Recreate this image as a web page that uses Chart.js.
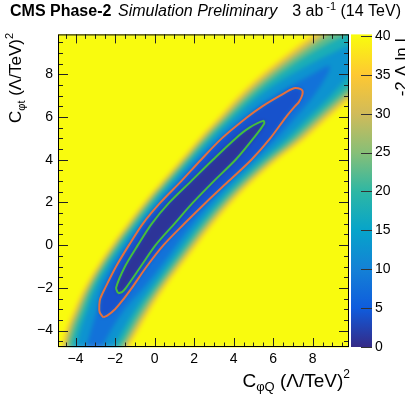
<!DOCTYPE html>
<html>
<head>
<meta charset="utf-8">
<script src="https://cdn.jsdelivr.net/npm/chart.js@4.4.1/dist/chart.umd.min.js"></script>
<style>html,body{margin:0;padding:0;background:#fff}canvas{display:block}</style>
</head>
<body>
<canvas id="c" width="405" height="395"></canvas>
<script>
// -2 delta lnL scan in the (C_phiQ, C_phit) plane
// rows of C_phit where the left / right edge of each level was read
const rowsY = [-6, -5, -4, -3, -2, -1, 0, 1, 2, 3, 4, 5, 6, 7, 8, 9, 10, 11];

// edges of the region below each level (C_phiQ values)
const band40L = [-4.96, -4.79, -4.54, -4.10, -3.59, -2.95, -2.22, -1.42, -0.59, 0.33, 1.27, 2.19, 3.20, 4.18, 5.34, 6.69, 8.11, 9.61];
const band40R = [-1.86, -1.39, -0.79, -0.15, 0.56, 1.35, 2.18, 3.03, 3.96, 5.03, 6.27, 7.69, 8.90, 10.18, 11.64, 13.19, 14.81, 16.51];
const band35L = [-4.86, -4.69, -4.43, -3.99, -3.49, -2.86, -2.13, -1.33, -0.49, 0.43, 1.38, 2.31, 3.33, 4.34, 5.53, 6.91, 8.37, 9.94];
const band35R = [-1.96, -1.50, -0.90, -0.27, 0.44, 1.23, 2.06, 2.90, 3.83, 4.90, 6.13, 7.53, 8.73, 10.00, 11.43, 12.95, 14.52, 16.15];
const band30L = [-4.76, -4.58, -4.32, -3.89, -3.39, -2.76, -2.03, -1.23, -0.40, 0.53, 1.48, 2.43, 3.47, 4.51, 5.74, 7.16, 8.69, 10.36];
const band30R = [-2.07, -1.61, -1.03, -0.39, 0.32, 1.11, 1.93, 2.78, 3.70, 4.76, 5.98, 7.36, 8.55, 9.81, 11.20, 12.67, 14.18, 15.70];
const band25L = [-4.63, -4.45, -4.18, -3.75, -3.27, -2.65, -1.92, -1.12, -0.28, 0.65, 1.61, 2.57, 3.64, 4.72, 5.99, 7.49, 9.12, 11.03];
const band25R = [-2.21, -1.75, -1.18, -0.54, 0.18, 0.97, 1.78, 2.62, 3.54, 4.60, 5.81, 7.16, 8.34, 9.57, 10.92, 12.31, 13.71, 14.96];
const band20L = [-4.46, -4.28, -4.00, -3.58, -3.13, -2.51, -1.78, -0.98, -0.14, 0.79, 1.75, 2.74, 3.83, 4.97, 6.34, 7.96, 10.01];
const band20R = [-2.39, -1.94, -1.37, -0.74, 0.01, 0.80, 1.61, 2.44, 3.36, 4.41, 5.60, 6.93, 8.09, 9.28, 10.54, 11.80, 12.73];
const band20Tip = [12.9, 11.05];
const band15L = [-4.15, -4.01, -3.76, -3.36, -2.94, -2.34, -1.61, -0.81, 0.03, 0.97, 1.94, 2.96, 4.10, 5.32, 6.95, 8.99];
const band15R = [-2.72, -2.22, -1.64, -0.99, -0.21, 0.58, 1.38, 2.21, 3.13, 4.17, 5.34, 6.62, 7.75, 8.88, 9.87, 10.66];
const band15Tip = [10.65, 9.6];
const band10L = [-3.64, -3.49, -3.22, -2.90, -2.63, -2.11, -1.38, -0.58, 0.27, 1.21, 2.19, 3.30, 4.57, 6.05, 7.98];
const band10R = [-3.27, -2.77, -2.22, -1.52, -0.57, 0.29, 1.08, 1.91, 2.82, 3.84, 4.99, 6.15, 7.15, 8.05, 8.74];
const band10Tip = [8.85, 8.4];

// 95% CL contour (orange) and 68% CL contour (green)
const orangeX = [-2.6, -2.78, -2.8, -2.75, -2.5, -1.95, -1.3, -0.6, 0.3, 1.35, 2.35, 3.4, 4.7, 5.45, 6.35, 7.05, 7.45, 7.48, 7.3, 7.1, 6.65, 5.85, 4.9, 3.75, 2.6, 1.5, 0.45, -0.4, -1.15, -1.55, -2.0, -2.4];
const orangeY = [-3.38, -3.15, -2.8, -2.5, -2, -1, 0, 1, 2, 3, 4, 5, 6, 6.5, 7, 7.35, 7.28, 7.05, 6.7, 6.5, 6, 5, 4, 3, 2, 1, 0, -1, -2, -2.5, -3, -3.3];
const greenX = [-1.85, -1.95, -1.5, -0.85, -0.15, 0.75, 1.85, 2.95, 4.1, 4.8, 5.5, 5.55, 5.0, 4.1, 3.0, 1.95, 1.0, 0.05, -0.7, -1.45, -1.65];
const greenY = [-2.25, -2, -1, 0, 1, 2, 3, 4, 5, 5.5, 5.82, 5.7, 5, 4, 3, 2, 1, 0, -1, -2, -2.2];

const zTicks = [0, 5, 10, 15, 20, 25, 30, 35, 40];

const FONT = "'Liberation Sans', Arial, Helvetica, sans-serif";

// ROOT "bird" palette
const birdStops = [[53, 42, 135], [15, 92, 221], [20, 129, 214], [6, 164, 202], [46, 183, 164], [135, 191, 119], [209, 187, 89], [254, 200, 50], [249, 251, 14]];
function bird(v) {
    const t = Math.max(0, Math.min(1, v / 40)) * 8;
    const i = Math.min(7, Math.floor(t)), f = t - i;
    const a = birdStops[i], b = birdStops[i + 1];
    return 'rgb(' + a.map((c, k) => Math.round(c + (b[k] - c) * f)).join(',') + ')';
}

function band(left, right, tip) {
    const pts = left.map((x, i) => ({ x, y: rowsY[i] }));
    if (tip) pts.push({ x: tip[0], y: tip[1] });
    for (let i = right.length - 1; i >= 0; i--) pts.push({ x: right[i], y: rowsY[i] });
    return pts;
}
function loop(xs, ys) {
    const p = xs.map((x, i) => ({ x, y: ys[i] }));
    p.push(p[0]);
    return p;
}
function fillSet(data, v) {
    return { data, fill: 'shape', backgroundColor: bird(v), borderColor: 'rgba(0,0,0,0)', borderWidth: 0, tension: 0.35, pointRadius: 0 };
}

const datasets = [
    { data: loop(greenX, greenY), fill: 'shape', backgroundColor: bird(1), borderColor: 'rgb(70,190,60)', borderWidth: 2, tension: 0.3, pointRadius: 0 },
    { data: loop(orangeX, orangeY), fill: 'shape', backgroundColor: bird(4), borderColor: 'rgb(228,112,62)', borderWidth: 2, tension: 0.3, pointRadius: 0 },
    fillSet(band(band10L, band10R, band10Tip), 8),
    fillSet(band(band15L, band15R, band15Tip), 12.5),
    fillSet(band(band20L, band20R, band20Tip), 17.5),
    fillSet(band(band25L, band25R), 22.5),
    fillSet(band(band30L, band30R), 27.5),
    fillSet(band(band35L, band35R), 32.5),
    fillSet(band(band40L, band40R), 37.5)
];

const fmt = v => (v < 0 ? '\u2212' + Math.abs(v) : String(v));

function drawParts(ctx, parts, xEnd, base) {
    let w = 0;
    parts.forEach(p => { ctx.font = (p.style || '') + ' ' + p.size + 'px ' + FONT; p.w = ctx.measureText(p.t).width + (p.gap || 0); w += p.w; });
    let x = xEnd - w;
    parts.forEach(p => { ctx.font = (p.style || '') + ' ' + p.size + 'px ' + FONT; ctx.fillText(p.t, x + (p.gap || 0), base + (p.dy || 0)); x += p.w; });
}

const heatPlugin = {
    id: 'heat',
    beforeDraw(chart) {
        const { ctx, chartArea: a } = chart;
        ctx.save();
        ctx.fillStyle = '#fff';
        ctx.fillRect(0, 0, chart.width, chart.height);
        ctx.fillStyle = bird(40);
        ctx.fillRect(a.left, a.top, a.right - a.left, a.bottom - a.top);
        ctx.restore();
    },
    beforeDatasetsDraw(chart) {
        // soften the level bands into a smooth gradient
        const { ctx, chartArea: a } = chart;
        const w = Math.round(a.right - a.left), h = Math.round(a.bottom - a.top), pad = 8;
        const off = document.createElement('canvas');
        off.width = w + 2 * pad; off.height = h + 2 * pad;
        const o = off.getContext('2d');
        o.drawImage(chart.canvas, a.left, a.top, w, h, pad, pad, w, h);
        o.drawImage(off, pad, pad, 1, h, 0, pad, pad, h);
        o.drawImage(off, pad + w - 1, pad, 1, h, pad + w, pad, pad, h);
        o.drawImage(off, 0, pad, w + 2 * pad, 1, 0, 0, w + 2 * pad, pad);
        o.drawImage(off, 0, pad + h - 1, w + 2 * pad, 1, 0, pad + h, w + 2 * pad, pad);
        ctx.save();
        ctx.beginPath(); ctx.rect(a.left, a.top, w, h); ctx.clip();
        ctx.filter = 'blur(2px)';
        ctx.drawImage(off, a.left - pad, a.top - pad);
        ctx.restore();
    },
    afterDraw(chart) {
        const { ctx, chartArea: a } = chart;
        const sx = chart.scales.x, sy = chart.scales.y, sz = chart.scales.z;
        ctx.save();
        // inward ticks on all four sides
        ctx.strokeStyle = '#222'; ctx.lineWidth = 1;
        ctx.beginPath();
        for (let v = -4.5; v <= sx.max; v += 0.5) {
            const px = Math.round(sx.getPixelForValue(v)) + 0.5, L = (v % 2 === 0) ? 9 : 4.5;
            ctx.moveTo(px, a.bottom); ctx.lineTo(px, a.bottom - L);
            ctx.moveTo(px, a.top); ctx.lineTo(px, a.top + L);
        }
        for (let v = -4.5; v <= sy.max; v += 0.5) {
            const py = Math.round(sy.getPixelForValue(v)) + 0.5, L = (v % 2 === 0) ? 10 : 5;
            ctx.moveTo(a.left, py); ctx.lineTo(a.left + L, py);
            ctx.moveTo(a.right, py); ctx.lineTo(a.right - L, py);
        }
        ctx.stroke();
        ctx.strokeStyle = '#000';
        ctx.strokeRect(a.left + 0.5, a.top + 0.5, a.right - a.left - 1, a.bottom - a.top - 1);

        // colour bar
        const y0 = sz.getPixelForValue(0), y40 = sz.getPixelForValue(40);
        const g = ctx.createLinearGradient(0, y0, 0, y40);
        birdStops.forEach((s, i) => g.addColorStop(i / 8, 'rgb(' + s.join(',') + ')'));
        ctx.fillStyle = g;
        ctx.fillRect(351, sz.top, 21, sz.bottom - sz.top);
        ctx.strokeStyle = '#333';
        ctx.beginPath();
        zTicks.forEach(v => { const py = Math.round(sz.getPixelForValue(v)) + 0.5; ctx.moveTo(372, py); ctx.lineTo(361, py); });
        ctx.stroke();

        // header
        ctx.fillStyle = '#000';
        ctx.textAlign = 'left'; ctx.textBaseline = 'alphabetic';
        ctx.font = 'bold 16px ' + FONT;
        ctx.fillText('CMS Phase-2', 10, 15.5);
        ctx.font = 'italic 16px ' + FONT;
        ctx.fillText('Simulation Preliminary', 118, 15.5);
        drawParts(ctx, [{ t: '3 ab', size: 16 }, { t: '-1', size: 11, dy: -6, gap: 3 }, { t: ' (14 TeV)', size: 16 }], 401, 15.5);

        // x title
        drawParts(ctx, [{ t: 'C', size: 19 }, { t: '\u03c6Q', size: 13, dy: 4 }, { t: ' (\u039b/TeV)', size: 19 }, { t: '2', size: 12, dy: -9 }], 350, 387);

        // y title
        ctx.save();
        ctx.translate(20.5, 33); ctx.rotate(-Math.PI / 2);
        drawParts(ctx, [{ t: 'C', size: 17 }, { t: '\u03c6t', size: 11, dy: 4 }, { t: ' (\u039b/TeV)', size: 17 }, { t: '2', size: 11, dy: -8 }], 0, 0);
        ctx.restore();

        // z title
        ctx.save();
        ctx.translate(407, 33); ctx.rotate(-Math.PI / 2);
        drawParts(ctx, [{ t: '-2 \u0394 ln L', size: 17 }], 0, 0);
        ctx.restore();
        ctx.restore();
    }
};

const tickFont = { family: FONT, size: 14 };

new Chart(document.getElementById('c'), {
    type: 'line',
    data: { datasets },
    options: {
        responsive: false,
        animation: false,
        devicePixelRatio: 1,
        layout: { padding: { top: 28, left: 0, right: 0, bottom: 0 } },
        elements: { point: { radius: 0 }, line: { capBezierPoints: false } },
        plugins: {
            legend: { display: false },
            tooltip: { enabled: false },
            filler: { drawTime: 'beforeDatasetsDraw', propagate: false }
        },
        scales: {
            x: {
                type: 'linear', min: -4.89, max: 9.84,
                grid: { display: false, drawTicks: false }, border: { display: false },
                ticks: { stepSize: 2, includeBounds: false, padding: 4, color: '#000', font: tickFont, maxRotation: 0, callback: fmt },
                afterFit: s => { s.height = 48; }
            },
            y: {
                type: 'linear', min: -4.77, max: 9.87,
                grid: { display: false, drawTicks: false }, border: { display: false },
                ticks: { stepSize: 2, includeBounds: false, padding: 5, color: '#000', font: tickFont, callback: fmt },
                afterFit: s => { s.width = 58; }
            },
            z: {
                axis: 'y', type: 'linear', position: 'right', min: 0, max: 40.2,
                grid: { display: false, drawTicks: false }, border: { display: false },
                ticks: { stepSize: 5, includeBounds: false, padding: 26, color: '#000', font: tickFont },
                afterFit: s => { s.width = 56; }
            }
        }
    },
    plugins: [heatPlugin]
});
</script>
</body>
</html>
